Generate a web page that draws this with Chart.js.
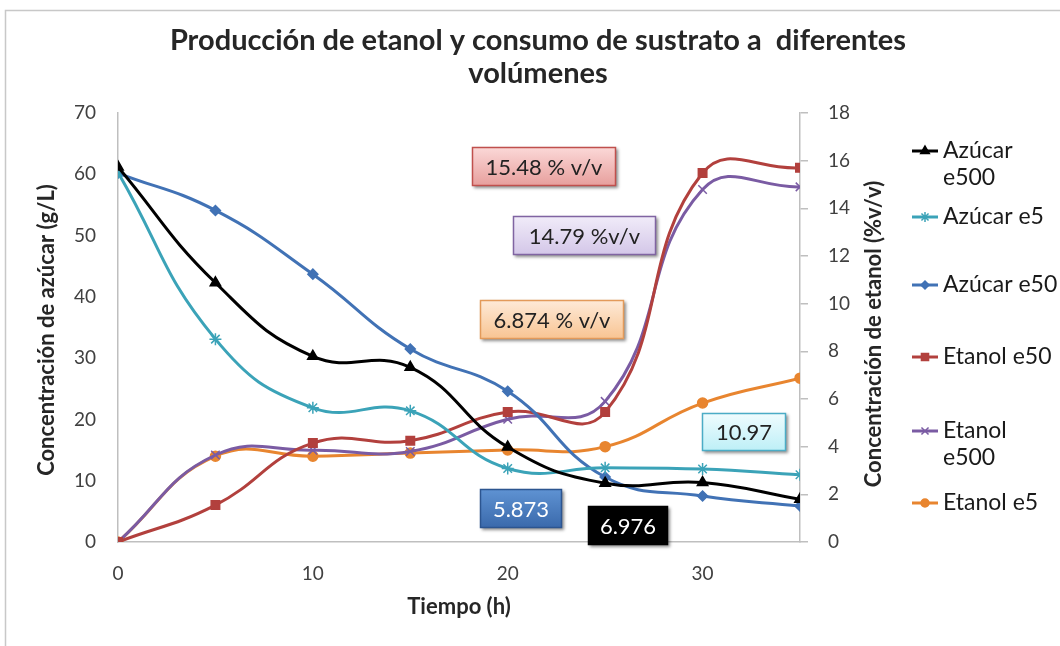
<!DOCTYPE html>
<html>
<head>
<meta charset="utf-8">
<script src="https://cdn.jsdelivr.net/npm/chart.js@4.4.1/dist/chart.umd.min.js"></script>
<style>
  html, body { margin: 0; padding: 0; background: #fff; }
  #wrap { width: 1060px; height: 646px; position: relative; }
</style>
</head>
<body>
<div id="wrap"><canvas id="chart" width="1060" height="646"></canvas></div>
<script>
// Data
const tiempo = [0, 5, 10, 15, 20, 25, 30, 35];
const azucarE500 = [61.2, 42.3, 30.3, 28.5, 15.5, 9.6, 9.7, 6.976];
const azucarE5 = [60.3, 33.1, 21.9, 21.4, 12.0, 12.1, 11.9, 10.97];
const azucarE50 = [60.2, 54.1, 43.7, 31.5, 24.6, 10.6, 7.5, 5.873];
const etanolE50 = [0, 1.55, 4.15, 4.25, 5.45, 5.45, 15.48, 15.7];
const etanolE500 = [0, 3.65, 3.85, 3.8, 5.15, 5.9, 14.79, 14.9];
const etanolE5 = [0, 3.6, 3.6, 3.73, 3.86, 4.0, 5.83, 6.874];

const leftTicks = [0, 10, 20, 30, 40, 50, 60, 70];
const rightTicks = [0, 2, 4, 6, 8, 10, 12, 14, 16, 18];
const xTicks = [0, 10, 20, 30];

// Callout boxes (text, colours, position)
const callouts = [
  { text: '15.48 % v/v', x: 472, y: 147, w: 144, h: 39, top: '#fbd9d8', bottom: '#e79e9c', border: '#c0504d', color: '#222' },
  { text: '14.79 %v/v', x: 513, y: 216, w: 143, h: 39, top: '#f1ecf9', bottom: '#d3c6e8', border: '#8064a2', color: '#222' },
  { text: '6.874 % v/v', x: 480, y: 300, w: 144, h: 39, top: '#feead8', bottom: '#f8c492', border: '#e39a5a', color: '#222' },
  { text: '10.97', x: 702, y: 413, w: 84, h: 38, top: '#f0fcfe', bottom: '#bdeff7', border: '#4bacc6', color: '#222' },
  { text: '5.873', x: 480, y: 489, w: 82, h: 39, top: '#5f93d3', bottom: '#3a69ab', border: '#2c5590', color: '#fff' },
  { text: '6.976', x: 588, y: 506, w: 80, h: 39, top: '#000', bottom: '#000', border: '#000', color: '#fff' }
];

const FONT = 'Lato, "Open Sans", sans-serif';
Chart.defaults.font.family = FONT;
Chart.defaults.color = '#404040';

function makePoints(xs, ys) {
  return xs.map((x, i) => ({ x: x, y: ys[i] }));
}

const series = [
  { label: ['Azúcar', 'e500'], data: azucarE500, color: '#000000', style: 'triangle', radius: 6, axis: 'y' },
  { label: ['Azúcar e5'], data: azucarE5, color: '#3ba3b8', style: 'star', radius: 6, axis: 'y' },
  { label: ['Azúcar e50'], data: azucarE50, color: '#4172b5', style: 'rectRot', radius: 5, axis: 'y' },
  { label: ['Etanol e50'], data: etanolE50, color: '#b2403d', style: 'rect', radius: 6, axis: 'y1' },
  { label: ['Etanol', 'e500'], data: etanolE500, color: '#7a5ba3', style: 'crossRot', radius: 6, axis: 'y1' },
  { label: ['Etanol e5'], data: etanolE5, color: '#e8852f', style: 'circle', radius: 5, axis: 'y1' }
];

// Title, axis titles, frame, callouts and legend drawn on top
const decorations = {
  id: 'decorations',
  beforeDraw(chart) {
    const c = chart.ctx;
    c.save();
    c.strokeStyle = '#c8c8c8';
    c.lineWidth = 1.5;
    c.strokeRect(5.5, 10.5, 1100, 700);
    c.restore();
  },
  afterDraw(chart) {
    const c = chart.ctx;
    c.save();
    c.fillStyle = '#262626';
    c.textAlign = 'center';
    c.textBaseline = 'middle';
    c.font = 'bold 29px ' + FONT;
    c.fillText('Producción de etanol y consumo de sustrato a  diferentes', 538, 41);
    c.fillText('volúmenes', 538, 74);

    c.font = 'bold 22px ' + FONT;
    c.fillText('Tiempo (h)', 459, 607);
    c.save();
    c.translate(47, 330);
    c.rotate(-Math.PI / 2);
    c.fillText('Concentración de azúcar (g/L)', 0, 0);
    c.restore();
    c.save();
    c.translate(874, 334);
    c.rotate(-Math.PI / 2);
    c.fillText('Concentración de etanol (%v/v)', 0, 0);
    c.restore();

    // callouts
    callouts.forEach(b => {
      c.save();
      c.shadowColor = 'rgba(0,0,0,0.45)';
      c.shadowOffsetX = 2;
      c.shadowOffsetY = 2;
      c.shadowBlur = 3;
      const g = c.createLinearGradient(0, b.y, 0, b.y + b.h);
      g.addColorStop(0, b.top);
      g.addColorStop(1, b.bottom);
      c.fillStyle = g;
      c.fillRect(b.x, b.y, b.w, b.h);
      c.restore();
      c.strokeStyle = b.border;
      c.lineWidth = 1.5;
      c.strokeRect(b.x + 0.5, b.y + 0.5, b.w - 1, b.h - 1);
      c.fillStyle = b.color;
      c.font = '22px ' + FONT;
      c.textAlign = 'center';
      c.textBaseline = 'middle';
      c.fillText(b.text, b.x + b.w / 2, b.y + b.h / 2 + 1);
    });

    // legend
    const rows = [151, 217, 285, 357, 431, 503];
    chart.data.datasets.forEach((ds, i) => {
      const y = rows[i];
      c.strokeStyle = ds.borderColor;
      c.fillStyle = ds.backgroundColor;
      c.lineWidth = 3;
      c.beginPath();
      c.moveTo(912, y);
      c.lineTo(938, y);
      c.stroke();
      c.lineWidth = 1.5;
      Chart.helpers.drawPoint(c, {
        pointStyle: ds.pointStyle, radius: ds.pointRadius - 1, borderWidth: 1.5, rotation: 0
      }, 925, y);
      c.fillStyle = '#1a1a1a';
      c.font = '23px ' + FONT;
      c.textAlign = 'left';
      c.textBaseline = 'middle';
      series[i].label.forEach((t, k) => c.fillText(t, 943, y + k * 27));
    });
    c.restore();
  }
};

new Chart(document.getElementById('chart'), {
  type: 'line',
  data: {
    datasets: series.map(s => ({
      label: s.label.join(' '),
      data: makePoints(tiempo, s.data),
      yAxisID: s.axis,
      borderColor: s.color,
      backgroundColor: s.color,
      pointBorderColor: s.color,
      pointBackgroundColor: s.color,
      pointStyle: s.style,
      pointRadius: s.radius,
      pointBorderWidth: 1.5,
      borderWidth: 3,
      tension: 0.45,
      fill: false
    }))
  },
  options: {
    responsive: false,
    animation: false,
    layout: { padding: { top: 113, left: 0, right: 0, bottom: 0 } },
    plugins: {
      legend: { display: false },
      title: { display: false },
      tooltip: { enabled: false }
    },
    scales: {
      x: {
        type: 'linear',
        min: 0,
        max: 35,
        afterBuildTicks: axis => { axis.ticks = xTicks.map(v => ({ value: v })); },
        afterFit: axis => { axis.height = 104; },
        grid: { drawOnChartArea: false, drawTicks: false },
        border: { color: '#bfbfbf', width: 1.5 },
        ticks: { padding: 20, font: { size: 19 }, color: '#404040' }
      },
      y: {
        position: 'left',
        min: 0,
        max: 70,
        afterBuildTicks: axis => { axis.ticks = leftTicks.map(v => ({ value: v })); },
        afterFit: axis => { axis.width = 118; },
        grid: { drawOnChartArea: false, drawTicks: false },
        border: { color: '#bfbfbf', width: 1.5 },
        ticks: { padding: 22, font: { size: 19 }, color: '#404040' }
      },
      y1: {
        position: 'right',
        min: 0,
        max: 18,
        afterBuildTicks: axis => { axis.ticks = rightTicks.map(v => ({ value: v })); },
        afterFit: axis => { axis.width = 260; },
        grid: { drawOnChartArea: false, drawTicks: true, tickLength: 8, color: '#bfbfbf', lineWidth: 1.5 },
        border: { color: '#bfbfbf', width: 1.5 },
        ticks: { padding: 20, font: { size: 19 }, color: '#404040' }
      }
    }
  },
  plugins: [decorations]
});
</script>
</body>
</html>
